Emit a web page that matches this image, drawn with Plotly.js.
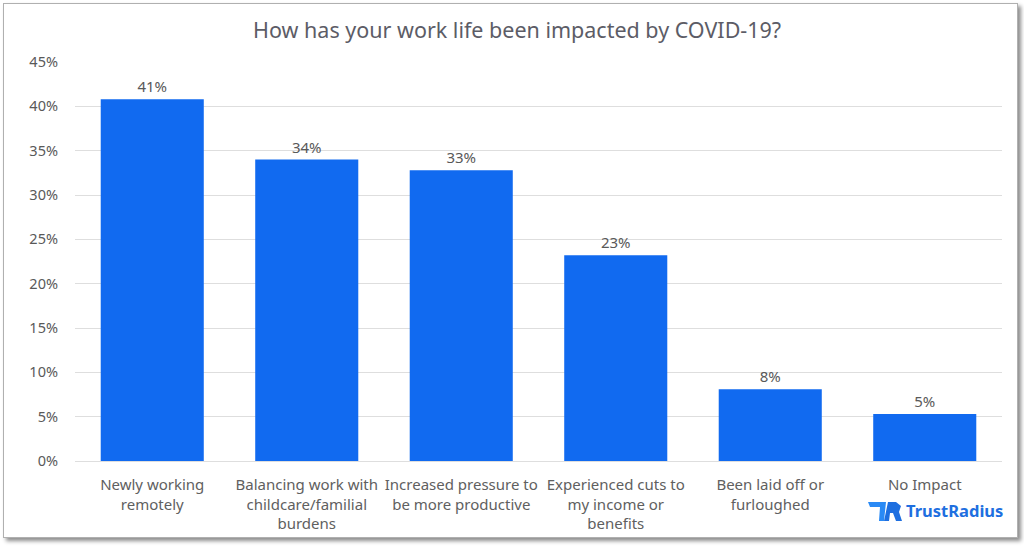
<!DOCTYPE html>
<html><head><meta charset="utf-8">
<script src="https://cdn.plot.ly/plotly-3.0.1.min.js"></script>
<style>
html,body{margin:0;padding:0;background:#fff;width:1024px;height:548px;overflow:hidden;}
#frame{position:absolute;left:3px;top:3px;width:1013px;height:533px;border:1px solid #b0b0b0;box-shadow:3px 3px 4px rgba(0,0,0,0.45);background:#fff;}
#chart{position:absolute;left:0;top:0;width:1024px;height:548px;}
</style></head>
<body>
<div id="frame"></div>
<div id="chart"></div>
<script>
const categories = ["Newly working<br>remotely","Balancing work with<br>childcare/familial<br>burdens","Increased pressure to<br>be more productive","Experienced cuts to<br>my income or<br>benefits","Been laid off or<br>furloughed","No Impact"];
const values = [40.8, 34.0, 32.8, 23.2, 8.1, 5.3];
const labels = ["41%","34%","33%","23%","8%","5%"];
const tickVals = [0,5,10,15,20,25,30,35,40,45];

const font = "Noto Sans, sans-serif";
const W=927, H=399, x0=75, y0=62;
const px=x=> (x-x0)/W, py=y=> 1-(y-y0)/H;
const p = (pts)=>'M'+pts.map(([x,y])=>px(x)+','+py(y)).join(' L')+' Z';
const icon1 = p([[868,502],[886,502],[884,521],[879,521],[880,507],[870,507]]);
const icon2 = p([[888,502],[896,502],[901,506],[899,512],[902,521],[896,521],[893,513],[890,513],[889,521],[884,521]]);

Plotly.newPlot('chart', [{
  type:'bar', x:categories, y:values, text:labels, textposition:'outside',
  textfont:{family:font,size:15,color:'#595959'}, cliponaxis:false,
  marker:{color:'#116af0'}, hoverinfo:'none'
}], {
  width:1024, height:548,
  margin:{l:75,r:22,t:62,b:87},
  paper_bgcolor:'rgba(0,0,0,0)', plot_bgcolor:'rgba(0,0,0,0)',
  bargap:0.333,
  title:{text:'How has your work life been impacted by COVID-19?', font:{family:font,size:21.5,color:'#5c5c66'}, x:0.505, xanchor:'center', y:0.945, yanchor:'middle'},
  xaxis:{tickfont:{family:font,size:15,color:'#606060'}, tickangle:0, showgrid:false, showline:false, ticks:'', automargin:false, ticklabelstandoff:13},
  yaxis:{range:[0,45], tickvals:tickVals, ticktext:tickVals.map(v=>v+'%'), tickfont:{family:font,size:14.5,color:'#595959'}, gridcolor:'#dedede', zerolinecolor:'#dedede', showline:false, automargin:false, ticklabelstandoff:16},
  annotations:[{xref:'paper',yref:'paper',x:1.003,y:-0.09,xanchor:'right',yanchor:'top',showarrow:false,text:'<b>TrustRadius</b>',font:{family:font,size:16.5,color:'#1e6fe0'}}],
  shapes:[
    {type:'path',xref:'paper',yref:'paper',path:icon1,fillcolor:'#2a8af5',line:{width:0}},
    {type:'path',xref:'paper',yref:'paper',path:icon2,fillcolor:'#1e6fe0',line:{width:0}}
  ],
  font:{family:font}, showlegend:false
}, {staticPlot:true});
</script>
</body></html>
